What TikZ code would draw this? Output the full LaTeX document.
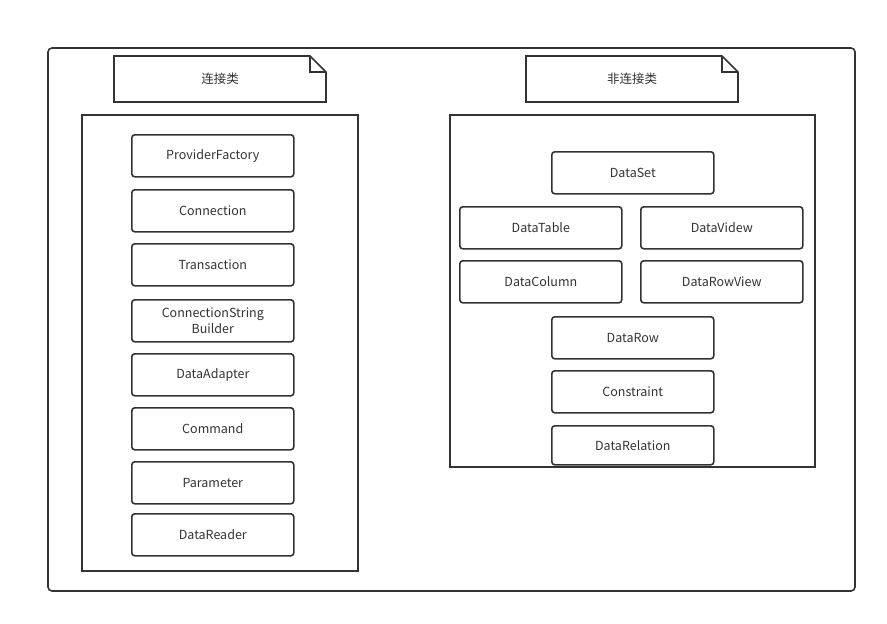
\documentclass[tikz,border=0pt]{standalone}
\usepackage{fontspec}
\setmainfont{Noto Sans CJK SC}
\usetikzlibrary{shapes.misc}
\definecolor{ln}{HTML}{333333}
\tikzset{
  px/.style={x=1pt,y=-1pt},
  item/.style={draw=ln,line width=1.6pt,rounded corners=3pt,minimum width=162pt,minimum height=42pt,anchor=north west,inner sep=0pt,font=\fontsize{12.5}{16}\selectfont,align=center,text=ln},
  cont/.style={draw=ln,line width=1.6pt},
  lbl/.style={font=\fontsize{12.5}{16}\selectfont,text=ln},
}
\begin{document}
\begin{tikzpicture}[px]
\useasboundingbox[fill=white] (0,0) rectangle (887,624);
\draw[cont,rounded corners=4pt] (48,48) rectangle (855,591);
% notes
\draw[cont] (114,56) -- (310,56) -- (326,72) -- (326,102) -- (114,102) -- cycle;
\draw[cont] (310,56) -- (310,72) -- (326,72);
\node[lbl] (n1) at (220,79) {连接类};
\draw[cont] (526,56) -- (722,56) -- (738,72) -- (738,102) -- (526,102) -- cycle;
\draw[cont] (722,56) -- (722,72) -- (738,72);
\node[lbl] (n2) at (632,79) {非连接类};
% containers
\draw[cont] (82,115) rectangle (358,571);
\draw[cont] (450,115) rectangle (815,467);
% left items
\node[item] (pf) at (131,134) {ProviderFactory};
\node[item] (cn) at (131,189) {Connection};
\node[item] (tr) at (131,243) {Transaction};
\node[item] (csb) at (131,299) {ConnectionString\\Builder};
\node[item] (da) at (131,353) {DataAdapter};
\node[item] (cm) at (131,407) {Command};
\node[item] (pa) at (131,461) {Parameter};
\node[item] (dr) at (131,513) {DataReader};
% right items
\node[item] (ds) at (551,151) {DataSet};
\node[item] (dt) at (459,206) {DataTable};
\node[item] (dv) at (640,206) {DataVidew};
\node[item] (dc) at (459,260) {DataColumn};
\node[item] (drv) at (640,260) {DataRowView};
\node[item] (drow) at (551,316) {DataRow};
\node[item] (con) at (551,370) {Constraint};
\node[item,minimum height=39pt] (rel) at (551,425) {DataRelation};
\end{tikzpicture}
\end{document}
